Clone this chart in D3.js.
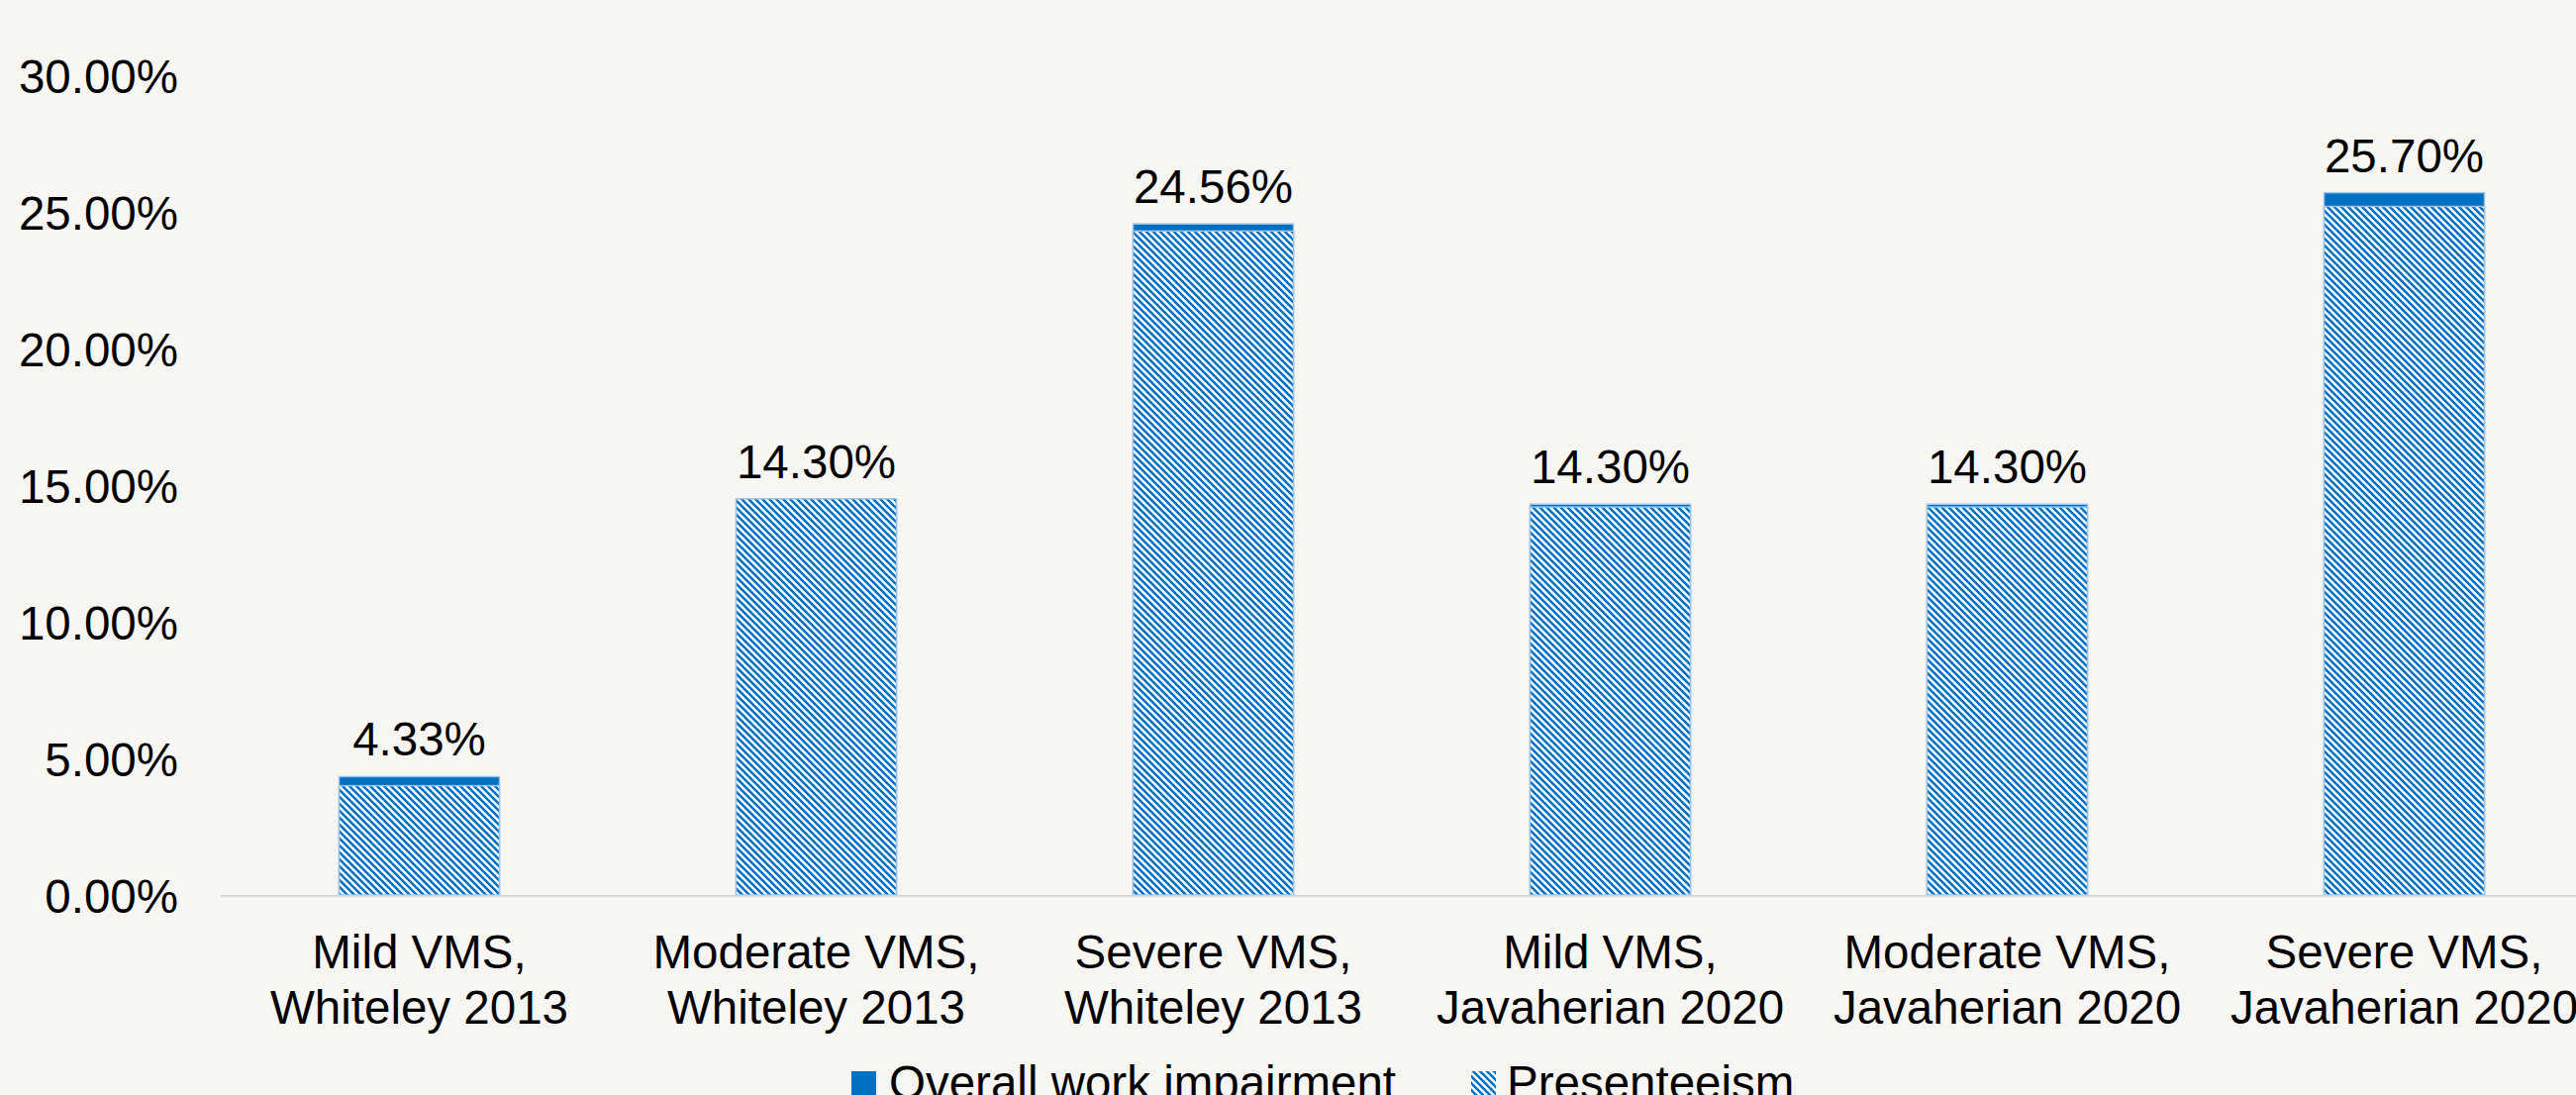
<!DOCTYPE html>
<html>
<head>
<meta charset="utf-8">
<script src="https://cdn.jsdelivr.net/npm/d3@7"></script>
<style>
  html, body { margin: 0; padding: 0; background: #f7f6f3; overflow: hidden; }
  svg { display: block; }
  text { font-family: "Liberation Sans", Arial, sans-serif; fill: #000; }
</style>
</head>
<body>
<svg id="chart" width="2602" height="1106"></svg>
<script>
// ---- data ----
const categories = [
  ["Mild VMS,", "Whiteley 2013"],
  ["Moderate VMS,", "Whiteley 2013"],
  ["Severe VMS,", "Whiteley 2013"],
  ["Mild VMS,", "Javaherian 2020"],
  ["Moderate VMS,", "Javaherian 2020"],
  ["Severe VMS,", "Javaherian 2020"]
];
const overallWorkImpairment = [4.33, 14.30, 24.56, 14.30, 14.30, 25.70];
const presenteeism = [4.0, 14.5, 24.3, 14.2, 14.2, 25.2];
const yTicks = [0, 5, 10, 15, 20, 25, 30];
const seriesNames = ["Overall work impairment", "Presenteeism"];

// ---- layout ----
const W = 2602, H = 1106;
const plotLeft = 223, plotRight = 2629, plotTop = 76, plotBottom = 904;
const svg = d3.select("#chart");
const blue = "#0070c0";
const fontSize = 47.5;

const defs = svg.append("defs");
const P = 7;
const pat = defs.append("pattern")
  .attr("id", "hatch")
  .attr("patternUnits", "userSpaceOnUse")
  .attr("width", P).attr("height", P);
pat.append("rect").attr("width", P).attr("height", P).attr("fill", "#ffffff");
pat.append("path")
  .attr("d", `M-1,-1 L${P + 1},${P + 1} M-1,${P - 1} L1,${P + 1} M${P - 1},-1 L${P + 1},1`)
  .attr("stroke", blue).attr("stroke-width", 2.6);

const keys = categories.map(c => c.join(" "));
const x = d3.scaleBand()
  .domain(keys)
  .range([plotLeft, plotRight])
  .paddingInner(0.596)
  .paddingOuter(0.298);
const y = d3.scaleLinear().domain([0, 30]).range([plotBottom, plotTop]);

// y axis labels
const yAxis = d3.axisLeft(y).tickValues(yTicks).tickSize(0).tickPadding(0)
  .tickFormat(d => d3.format(".2f")(d) + "%");
const yg = svg.append("g").attr("transform", `translate(180,0)`).call(yAxis);
yg.select(".domain").remove();
yg.selectAll("text")
  .attr("font-size", fontSize)
  .attr("font-family", "Liberation Sans, Arial, sans-serif")
  .attr("fill", "#000")
  .attr("dy", "0.36em");

// overall bars (behind)
svg.append("g").selectAll("rect")
  .data(overallWorkImpairment)
  .join("rect")
  .attr("x", (d, i) => x(keys[i]))
  .attr("width", x.bandwidth())
  .attr("y", d => y(d))
  .attr("height", d => y(0) - y(d))
  .attr("fill", blue)
  .attr("stroke", "#9cc3e6")
  .attr("stroke-width", 1.5);

// presenteeism bars (front, hatched)
svg.append("g").selectAll("rect")
  .data(presenteeism)
  .join("rect")
  .attr("x", (d, i) => x(keys[i]))
  .attr("width", x.bandwidth())
  .attr("y", d => y(d))
  .attr("height", d => y(0) - y(d))
  .attr("fill", "url(#hatch)")
  .attr("stroke", "#9cc3e6")
  .attr("stroke-width", 1.5);

// baseline
svg.append("line")
  .attr("x1", plotLeft).attr("x2", W)
  .attr("y1", y(0) + 1).attr("y2", y(0) + 1)
  .attr("stroke", "#d9d9d9").attr("stroke-width", 2);

// data labels
svg.append("g").selectAll("text")
  .data(overallWorkImpairment)
  .join("text")
  .attr("x", (d, i) => x(keys[i]) + x.bandwidth() / 2)
  .attr("y", (d, i) => Math.min(y(d), y(presenteeism[i])) - 21)
  .attr("text-anchor", "middle")
  .attr("font-size", fontSize)
  .text(d => d3.format(".2f")(d) + "%");

// category labels
const cg = svg.append("g");
categories.forEach((c, i) => {
  const t = cg.append("text")
    .attr("x", x(keys[i]) + x.bandwidth() / 2)
    .attr("y", 978)
    .attr("text-anchor", "middle")
    .attr("font-size", fontSize);
  c.forEach((line, j) => {
    t.append("tspan")
      .attr("x", x(keys[i]) + x.bandwidth() / 2)
      .attr("dy", j === 0 ? 0 : 56)
      .text(line);
  });
});

// legend
const legend = svg.append("g");
const legendItems = [
  { name: seriesNames[0], fill: blue, sx: 860, tx: 898 },
  { name: seriesNames[1], fill: "url(#hatch)", sx: 1486, tx: 1522 }
];
legendItems.forEach(it => {
  legend.append("rect")
    .attr("x", it.sx).attr("y", 1082)
    .attr("width", 25).attr("height", 25)
    .attr("fill", it.fill);
  legend.append("text")
    .attr("x", it.tx).attr("y", 1110)
    .attr("font-size", fontSize)
    .text(it.name);
});
</script>
</body>
</html>
